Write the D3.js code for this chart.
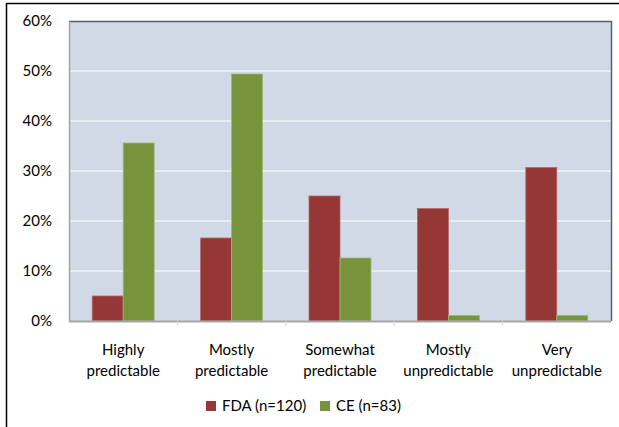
<!DOCTYPE html>
<html><head><meta charset="utf-8">
<script src="https://cdn.jsdelivr.net/npm/d3@7"></script>
<style>body{margin:0;background:#fff}svg{display:block}text{font-family:Lato,"Open Sans",sans-serif;fill:#000}</style>
</head><body>
<script>
const categories = [["Highly","predictable"],["Mostly","predictable"],["Somewhat","predictable"],["Mostly","unpredictable"],["Very","unpredictable"]];
const seriesNames = ["FDA (n=120)","CE (n=83)"];
const fdaValues = [5.0, 16.6, 25.0, 22.5, 30.7];
const ceValues = [35.6, 49.4, 12.6, 1.1, 1.1];
const yTicks = [0,10,20,30,40,50,60];
const colors = ["#953735","#77933C"];
const strokes = ["#b26a68","#a0b878"];

const W=619,H=427;
const svg=d3.select("body").append("svg").attr("width",W).attr("height",H);
svg.append("rect").attr("x",6.5).attr("y",3.5).attr("width",W+10).attr("height",H+10).attr("fill","#fff").attr("stroke","#000").attr("stroke-width",1.5);

const L=69,R=611,T=21,B=321;
const x=d3.scaleBand().domain(d3.range(categories.length)).range([L,R]);
const y=d3.scaleLinear().domain([0,60]).range([B,T]);
const bw=31;

svg.append("rect").attr("x",L).attr("y",T).attr("width",R-L).attr("height",B-T).attr("fill","#D1D9E7");
// gridlines
svg.append("g").selectAll("line").data(yTicks.slice(1,-1)).join("line")
 .attr("x1",L).attr("x2",R).attr("y1",d=>y(d)).attr("y2",d=>y(d)).attr("stroke","#fff").attr("stroke-width",1);
// top/right dark border
svg.append("path").attr("d",`M${L},${T+0.5}H${R+0.5}V${B}`).attr("fill","none").attr("stroke","#5a5f66").attr("stroke-width",1.5);

const series=[fdaValues,ceValues];
series.forEach((vals,si)=>{
  svg.append("g").selectAll("rect").data(vals).join("rect")
   .attr("x",(d,i)=>x(i)+x.bandwidth()/2-bw+si*bw)
   .attr("y",d=>y(d)).attr("width",bw).attr("height",d=>B-y(d))
   .attr("fill",colors[si]).attr("stroke",strokes[si]).attr("stroke-width",0.8);
});

// axes
const yAxis=d3.axisLeft(y).tickValues(yTicks).tickSize(0).tickPadding(17).tickFormat(d=>d+"%");
const ga=svg.append("g").attr("transform",`translate(${L},0)`).call(yAxis);
ga.select(".domain").attr("stroke","#a6a6a6").attr("stroke-width",1.5);
ga.selectAll("text").style("font-size","15px").attr("fill","#000");

const xb=svg.append("g");
xb.append("line").attr("x1",L).attr("x2",R).attr("y1",B+0.5).attr("y2",B+0.5).attr("stroke","#a6a6a6").attr("stroke-width",2);
xb.selectAll(".tk").data(d3.range(1,categories.length)).join("line").attr("class","tk")
 .attr("x1",i=>x(i)).attr("x2",i=>x(i)).attr("y1",B).attr("y2",B+5).attr("stroke","#ddd");
const lab=xb.selectAll(".lab").data(categories).join("text").attr("class","lab")
 .attr("text-anchor","middle").style("font-size","15px");
lab.each(function(d,i){
  const t=d3.select(this);
  d.forEach((s,k)=>t.append("tspan").attr("x",x(i)+x.bandwidth()/2).attr("y",355+k*21).text(s));
});

// legend
const leg=svg.append("g");
const lx=[206,320];
seriesNames.forEach((n,i)=>{
  leg.append("rect").attr("x",lx[i]).attr("y",401).attr("width",10).attr("height",10).attr("fill",colors[i]);
  leg.append("text").attr("x",lx[i]+16).attr("y",411).style("font-size","15px").text(n);
});
</script>
</body></html>
